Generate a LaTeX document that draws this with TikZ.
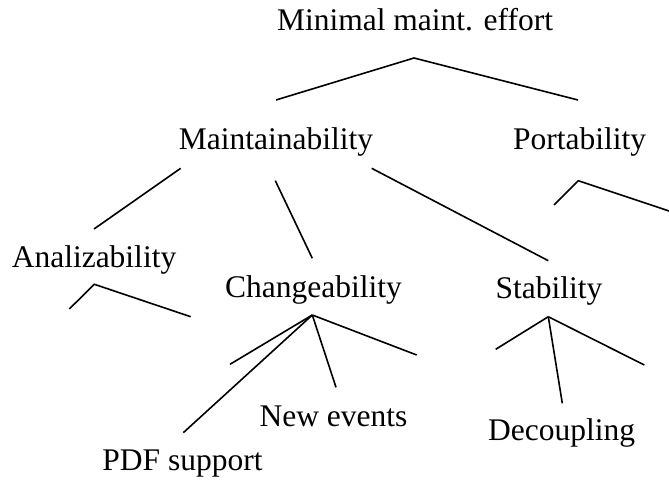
\documentclass[tikz,border=0pt]{standalone}
\usepackage{fontspec}
\setmainfont{Liberation Serif}
\begin{document}
\begin{tikzpicture}[x=1pt,y=-1pt,
  lbl/.style={anchor=base,inner sep=0pt,font=\fontsize{31.5}{36}\selectfont},
  edge/.style={line width=1.6pt,line join=miter}]
\useasboundingbox (0,0) rectangle (669,481);
% labels
\node[lbl] (root) at (415,30.5) {Minimal maint. effort};
\node[lbl] (maint) at (276,150) {Maintainability};
\node[lbl] (port) at (579.5,150) {Portability};
\node[lbl] (anal) at (94,267) {Analizability};
\node[lbl] (chg) at (313.5,297) {Changeability};
\node[lbl] (stab) at (549,298) {Stability};
\node[lbl] (newev) at (333.5,426.5) {New events};
\node[lbl] (dec) at (561.7,440) {Decoupling};
\node[lbl] (pdf) at (182.5,470) {PDF support};
% connector points
\coordinate (rA) at (414,58);
\coordinate (rL) at (276,100);
\coordinate (rR) at (578,100);
\coordinate (mA) at (180.7,168.3);
\coordinate (aT) at (94,229);
\coordinate (mC) at (275.3,180.7);
\coordinate (cT) at (312.3,258.3);
\coordinate (mS) at (371.7,168.3);
\coordinate (sT) at (548.3,260.7);
\coordinate (pA) at (578.3,180.7);
\coordinate (pL) at (554,205);
\coordinate (pR) at (672,212);
\coordinate (aA) at (94.3,284.3);
\coordinate (aL) at (69.3,309);
\coordinate (aR) at (190.7,316.7);
\coordinate (cA) at (312.3,315);
\coordinate (cL) at (230,364.3);
\coordinate (cP) at (183.3,432.7);
\coordinate (cN) at (336,387.3);
\coordinate (cR) at (416.7,355);
\coordinate (sA) at (548.3,316.7);
\coordinate (sL) at (495.7,349.3);
\coordinate (sD) at (562.3,403.3);
\coordinate (sR) at (644.3,365);
% connectors
\draw[edge] (rL) -- (rA) -- (rR);
\draw[edge] (mA) -- (aT);
\draw[edge] (mC) -- (cT);
\draw[edge] (mS) -- (sT);
\draw[edge] (pL) -- (pA) -- (pR);
\draw[edge] (aL) -- (aA) -- (aR);
\draw[edge] (cA) -- (cL);
\draw[edge] (cA) -- (cP);
\draw[edge] (cA) -- (cN);
\draw[edge] (cA) -- (cR);
\draw[edge] (sA) -- (sL);
\draw[edge] (sA) -- (sD);
\draw[edge] (sA) -- (sR);
\end{tikzpicture}
\end{document}
